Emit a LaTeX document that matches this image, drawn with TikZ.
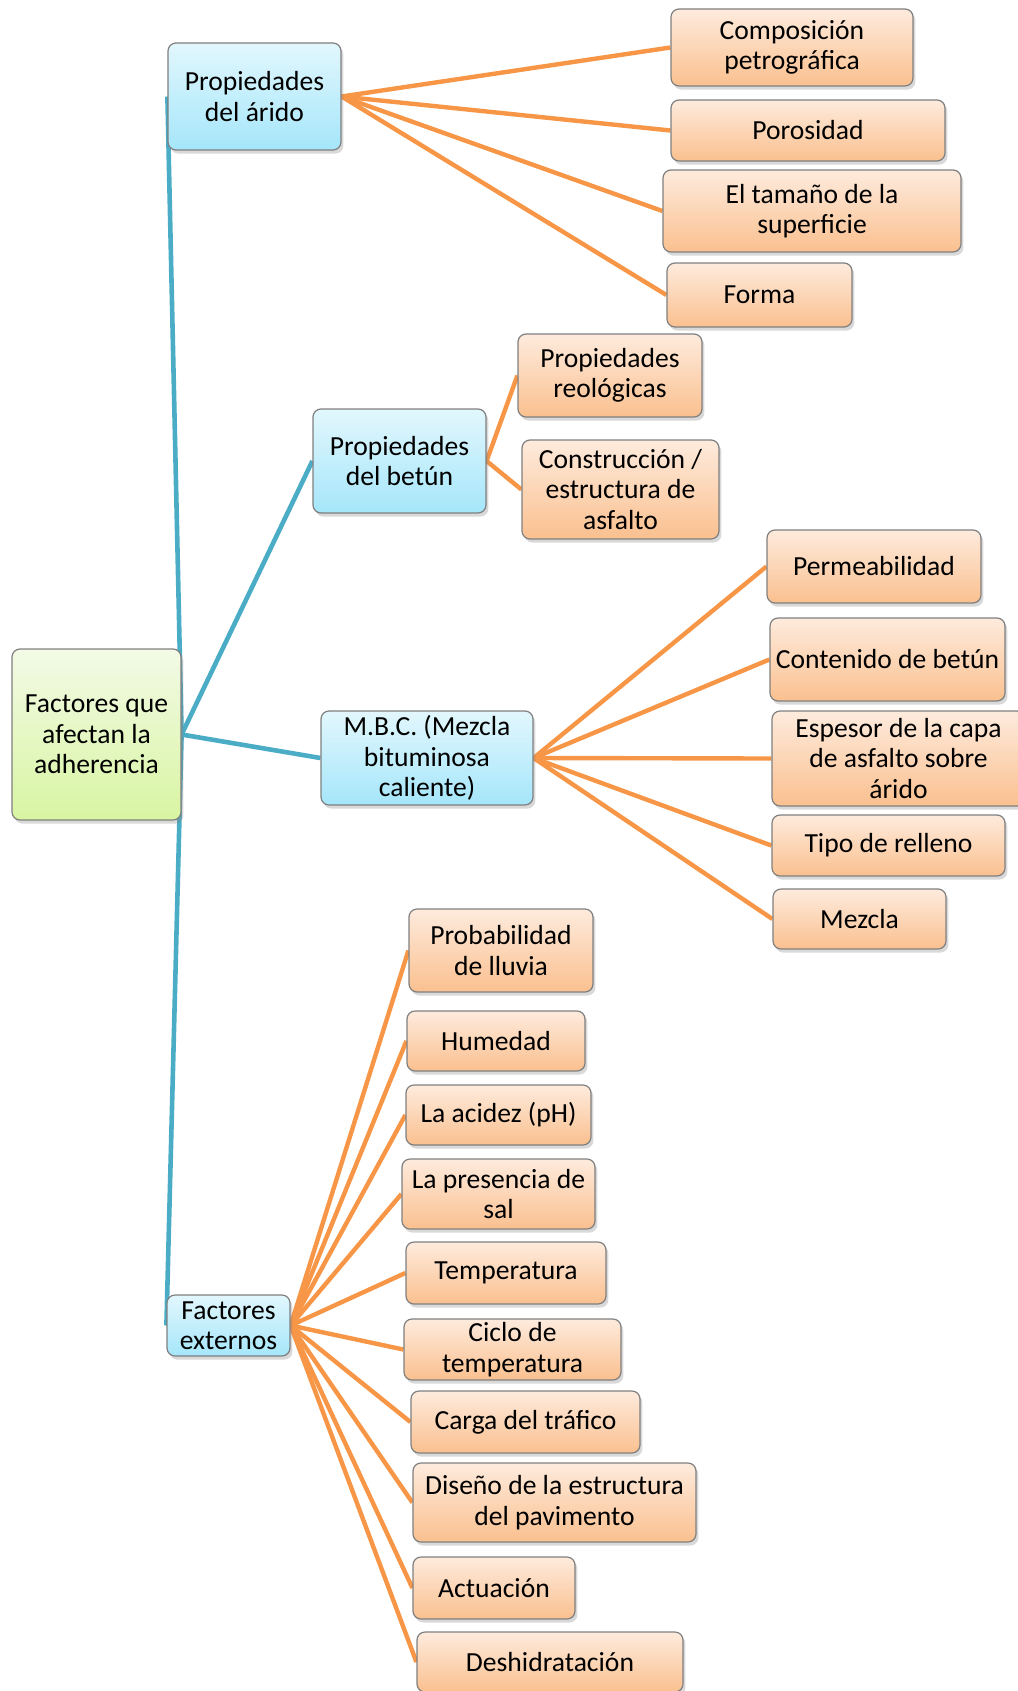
\documentclass[tikz,border=0pt]{standalone}
\usepackage{fontspec}
\setmainfont{Carlito}
\usepackage{tikz}
\usetikzlibrary{shadows,backgrounds}
\definecolor{lineblue}{HTML}{4BACC6}
\definecolor{lineorange}{HTML}{F79646}
\definecolor{boxgray}{HTML}{7F7F7F}
\definecolor{greentop}{HTML}{F3FAE6}
\definecolor{greenbot}{HTML}{D8F5A2}
\definecolor{bluetop}{HTML}{E2F7FD}
\definecolor{bluebot}{HTML}{A5E6FA}
\definecolor{orangetop}{HTML}{FEEBDD}
\definecolor{orangebot}{HTML}{FAC08F}

\begin{document}
\begin{tikzpicture}[x=0.5pt,y=-0.5pt,
    box/.style={draw=boxgray,line width=0.6pt,rounded corners=4pt,align=center,
      font=\fontsize{13.8}{15.2}\selectfont,inner sep=1pt,
      drop shadow={opacity=0.3,shadow xshift=1.2pt,shadow yshift=-1.8pt}},
    rootbox/.style={box,top color=greentop,bottom color=greenbot},
    mainbox/.style={box,top color=bluetop,bottom color=bluebot},
    leafbox/.style={box,top color=orangetop,bottom color=orangebot},
    trunk/.style={lineblue,line width=2.3pt},
    twig/.style={lineorange,line width=2.2pt}]
  \useasboundingbox (0,0) rectangle (1017,1691);

  % root and the four groups
  \node[rootbox,minimum width=84.5pt,minimum height=85.5pt] (root) at (96.5,734.5)
    {Factores que\\afectan la\\adherencia};
  \node[mainbox,minimum width=86.5pt,minimum height=53.5pt] (arido) at (254.5,96.5)
    {Propiedades\\del árido};
  \node[mainbox,minimum width=86.5pt,minimum height=52pt] (betun) at (399.5,461)
    {Propiedades\\del betún};
  \node[mainbox,minimum width=106pt,minimum height=47pt] (mbc) at (427,758)
    {M.B.C. (Mezcla\\bituminosa\\caliente)};
  \node[mainbox,minimum width=61.5pt,minimum height=30.5pt] (externos) at (228.5,1325.5)
    {Factores\\externos};

  % aggregate
  \node[leafbox,minimum width=121pt,minimum height=38.5pt] (comp) at (792,47.5)
    {Composición\\petrográfica};
  \node[leafbox,minimum width=137pt,minimum height=30.5pt] (poro) at (808,130.5)
    {Porosidad};
  \node[leafbox,minimum width=149pt,minimum height=41pt] (tam) at (812,211)
    {El tamaño de la\\superficie};
  \node[leafbox,minimum width=92.5pt,minimum height=32pt] (forma) at (759.5,295)
    {Forma};

  % binder
  \node[leafbox,minimum width=92pt,minimum height=41.5pt] (reol) at (610,375.5)
    {Propiedades\\reológicas};
  \node[leafbox,minimum width=98.5pt,minimum height=49.5pt] (constr) at (620.5,489.5)
    {Construcción /\\estructura de\\asfalto};

  % hot mix
  \node[leafbox,minimum width=107pt,minimum height=36.5pt] (perm) at (874,566.5)
    {Permeabilidad};
  \node[leafbox,minimum width=117.5pt,minimum height=41.5pt] (cont) at (887.5,659.5)
    {Contenido de betún};
  \node[leafbox,minimum width=126.5pt,minimum height=47.5pt] (esp) at (898.5,758.5)
    {Espesor de la capa\\de asfalto sobre\\árido};
  \node[leafbox,minimum width=116.5pt,minimum height=30.5pt] (tipo) at (888.5,845.5)
    {Tipo de relleno};
  \node[leafbox,minimum width=86.5pt,minimum height=30pt] (mezcla) at (859.5,919)
    {Mezcla};

  % external factors
  \node[leafbox,minimum width=92pt,minimum height=41.5pt] (lluvia) at (501,950.5)
    {Probabilidad\\de lluvia};
  \node[leafbox,minimum width=89pt,minimum height=30pt] (humedad) at (496,1041)
    {Humedad};
  \node[leafbox,minimum width=92.5pt,minimum height=30pt] (acidez) at (498.5,1115)
    {La acidez (pH)};
  \node[leafbox,minimum width=96.5pt,minimum height=35pt] (sal) at (498.5,1194)
    {La presencia de\\sal};
  \node[leafbox,minimum width=100pt,minimum height=31pt] (temp) at (506,1273)
    {Temperatura};
  \node[leafbox,minimum width=108.5pt,minimum height=30.5pt] (ciclo) at (512.5,1349.5)
    {Ciclo de\\temperatura};
  \node[leafbox,minimum width=114.5pt,minimum height=31pt] (carga) at (525.5,1422)
    {Carga del tráfico};
  \node[leafbox,minimum width=141.5pt,minimum height=39.5pt] (diseno) at (554.5,1502.5)
    {Diseño de la estructura\\del pavimento};
  \node[leafbox,minimum width=81pt,minimum height=31pt] (actuacion) at (494,1588)
    {Actuación};
  \node[leafbox,minimum width=133pt,minimum height=30pt] (deshid) at (550,1662)
    {Deshidratación};

  \begin{scope}[on background layer]
    \foreach \grp in {arido,betun,mbc,externos}
      \draw[trunk] (root.east) -- (\grp.west);
    \foreach \leaf in {comp,poro,tam,forma}
      \draw[twig] (arido.east) -- (\leaf.west);
    \foreach \leaf in {reol,constr}
      \draw[twig] (betun.east) -- (\leaf.west);
    \foreach \leaf in {perm,cont,esp,tipo,mezcla}
      \draw[twig] (mbc.east) -- (\leaf.west);
    \foreach \leaf in {lluvia,humedad,acidez,sal,temp,ciclo,carga,diseno,actuacion,deshid}
      \draw[twig] (externos.east) -- (\leaf.west);
  \end{scope}
\end{tikzpicture}
\end{document}
